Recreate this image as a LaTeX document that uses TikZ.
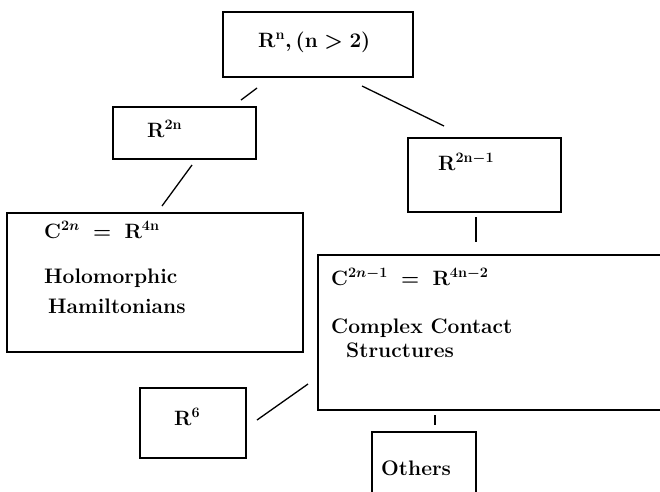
\documentclass[tikz,border=0pt]{standalone}
\begin{document}
\begin{tikzpicture}[x=1pt,y=-1pt,
  box/.style={draw=black,line width=1.4pt,inner sep=0pt,rectangle},
  lbl/.style={anchor=base west,inner sep=0pt,font=\fontsize{21}{25}\selectfont\bfseries\boldmath},
  link/.style={draw=black,line width=1.3pt}]
\useasboundingbox (0,0) rectangle (660,491);
\clip (0,0) rectangle (660,491);
% boxes
\node[box,minimum width=190pt,minimum height=65pt] (top) at (318,44.5) {};
\node[box,minimum width=143pt,minimum height=52pt] (r2n) at (184.5,133) {};
\node[box,minimum width=296pt,minimum height=139pt] (c2n) at (155,282.5) {};
\node[box,minimum width=153pt,minimum height=74pt] (r2n1) at (484.5,175) {};
\node[box,minimum width=362pt,minimum height=155pt] (c2n1) at (499,332.5) {};
\node[box,minimum width=104pt,minimum height=88pt] (others) at (424,476) {};
\node[box,minimum width=106pt,minimum height=70pt] (r6) at (193,423) {};
% texts
\node[lbl] (ttop) at (258,47) {$\mathbf{R}^{\mathbf{n}}, (\mathbf{n} > \mathbf{2})$};
\node[lbl] (tr2n) at (147,137) {$\mathbf{R}^{\mathbf{2n}}$};
\node[lbl] (tc2na) at (44,238) {$\mathbf{C}^{2n} \;=\; \mathbf{R}^{\mathbf{4n}}$};
\node[lbl] (tc2nb) at (44,283) {Holomorphic};
\node[lbl] (tc2nc) at (48,313) {Hamiltonians};
\node[lbl] (tr2n1) at (438,170) {$\mathbf{R}^{\mathbf{2n-1}}$};
\node[lbl] (tc2n1a) at (331,285) {$\mathbf{C}^{2n-1} \;=\; \mathbf{R}^{\mathbf{4n-2}}$};
\node[lbl] (tc2n1b) at (331,333) {Complex Contact};
\node[lbl] (tc2n1c) at (346,357) {Structures};
\node[lbl] (tothers) at (381,475) {Others};
\node[lbl] (tr6) at (174,425) {$\mathbf{R}^{\mathbf{6}}$};
% connector end points
\coordinate (e1a) at (257,88);  \coordinate (e1b) at (241,100);
\coordinate (e2a) at (362,86);  \coordinate (e2b) at (444,126);
\coordinate (e3a) at (192,165); \coordinate (e3b) at (162,206);
\coordinate (e4a) at (476,217); \coordinate (e4b) at (476,242);
\coordinate (e5a) at (435,415); \coordinate (e5b) at (435,425);
\coordinate (e6a) at (308,384); \coordinate (e6b) at (257,420);
\draw[link] (e1a) -- (e1b);
\draw[link] (e2a) -- (e2b);
\draw[link] (e3a) -- (e3b);
\draw[link] (e4a) -- (e4b);
\draw[link] (e5a) -- (e5b);
\draw[link] (e6a) -- (e6b);
\end{tikzpicture}
\end{document}
